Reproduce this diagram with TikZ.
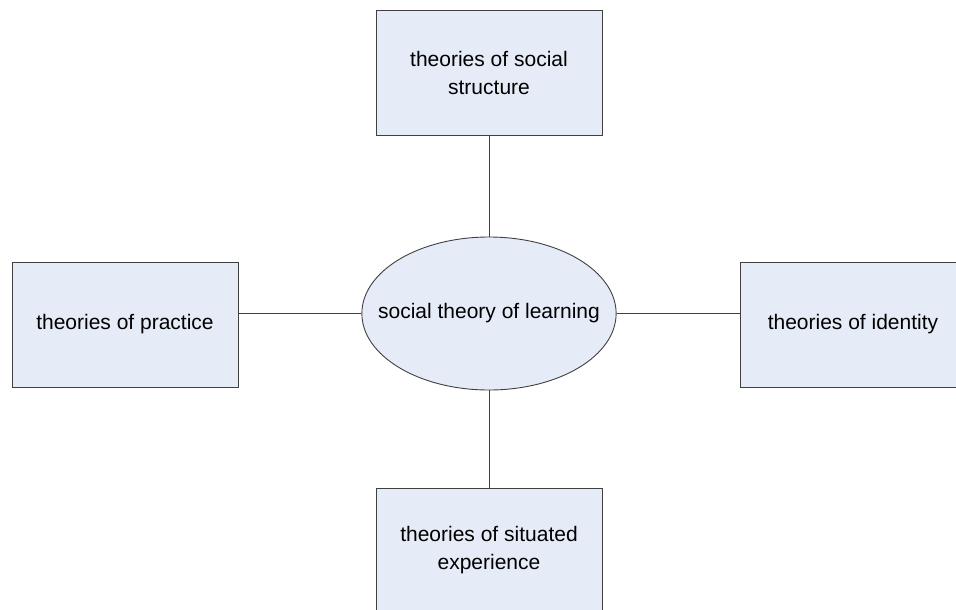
\documentclass[tikz,border=0pt]{standalone}
\usepackage{fontspec}
\setmainfont{Liberation Sans}
\usetikzlibrary{shapes.geometric}
\definecolor{theoryfill}{HTML}{E6ECF7}
\definecolor{theoryline}{HTML}{404040}

\begin{document}
\begin{tikzpicture}[x = 1pt, y = -1pt,
  theory/.style = {draw = theoryline, fill = theoryfill, line width = 0.9pt,
    minimum width = 226pt, minimum height = 125pt, inner sep = 0pt,
    align = center, font = \fontsize{21}{28}\selectfont},
  core/.style = {ellipse, draw = theoryline, fill = theoryfill, line width = 0.9pt,
    minimum width = 252pt, minimum height = 153pt, inner xsep = -21pt, inner ysep = 0pt,
    font = \fontsize{21}{28}\selectfont},
  link/.style = {draw = theoryline, line width = 0.9pt}]
\path[use as bounding box, clip] (0, 0) rectangle (956, 610);
\node[core] (learning) at (489, 313.5){social theory of learning};
\node[theory] (structure) at (489, 73){theories of social\\structure};
\node[theory] (practice) at (125, 324.5){theories of practice};
\node[theory] (identity) at (853, 324.5){theories of identity};
\node[theory] (situated) at (489, 550.5){theories of situated\\experience};
\path[link] (structure) -- (learning);
\path[link] (practice.east |- learning) -- (learning.west);
\path[link] (learning.east) -- (identity.west |- learning);
\path[link] (learning) -- (situated);
\end{tikzpicture}
\end{document}
